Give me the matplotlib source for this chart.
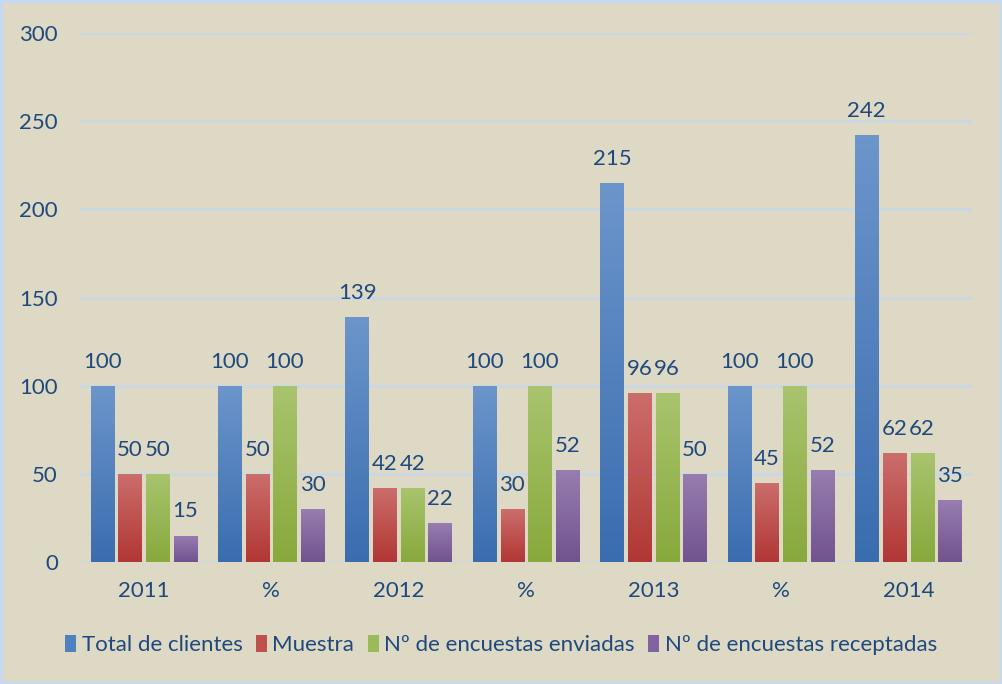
import matplotlib
matplotlib.use("Agg")
import matplotlib.pyplot as plt
import numpy as np
from matplotlib.colors import LinearSegmentedColormap
from matplotlib.patches import Rectangle

categories = ["2011", "%", "2012", "%", "2013", "%", "2014"]
series_names = ["Total de clientes", "Muestra", "Nº de encuestas enviadas", "Nº de encuestas receptadas"]
total_clientes = [100, 100, 139, 100, 215, 100, 242]
muestra = [50, 50, 42, 30, 96, 45, 62]
enviadas = [50, 100, 42, 100, 96, 100, 62]
receptadas = [15, 30, 22, 52, 50, 52, 35]
yticks = [0, 50, 100, 150, 200, 250, 300]

series = [total_clientes, muestra, enviadas, receptadas]
grad = [("#6C95CB", "#3A6DAF"), ("#CB6E6C", "#B13734"), ("#A9C46E", "#88A93C"), ("#977DB0", "#71538E")]
solid = ["#4F81BD", "#C0504D", "#9BBB59", "#8064A2"]

bg = "#DDD9C4"
txt = "#1F497D"
gridc = "#C9D8E5"

plt.rcParams['font.family'] = ['Lato', 'DejaVu Sans']

fig = plt.figure(figsize=(10.02, 6.84), dpi=100, facecolor=bg)
ax = fig.add_axes([80/1002, (684-562)/684, 892/1002, 529/684])
ax.set_facecolor(bg)

x = np.arange(len(categories))
bw = 0.182
step = 0.217
offsets = (np.arange(4) - 1.5) * step
fs = 16

for i, (vals, (ctop, cbot)) in enumerate(zip(series, grad)):
    cmap = LinearSegmentedColormap.from_list(f"g{i}", [cbot, ctop])
    bars = ax.bar(x + offsets[i], vals, bw, color=solid[i], label=series_names[i], zorder=3)
    for b, v in zip(bars, vals):
        bx, by = b.get_x(), b.get_y()
        w, h = b.get_width(), b.get_height()
        img = ax.imshow(np.linspace(0, 1, 100).reshape(-1, 1), cmap=cmap, aspect='auto',
                        extent=[bx, bx + w, by, by + h], origin='lower', zorder=3.5)
        img.set_clip_path(b)
        ax.text(bx + w / 2, v + 8, str(v), ha='center', va='bottom', fontsize=fs, color=txt, zorder=5)

ax.set_xlim(-0.5, len(categories) - 0.5)
ax.set_ylim(0, 300)
ax.set_yticks(yticks)
ax.set_xticks(x)
ax.set_xticklabels(categories)
ax.tick_params(axis='both', length=0, labelsize=fs, labelcolor=txt)
ax.tick_params(axis='y', pad=16)
ax.tick_params(axis='x', pad=14)
for t in ax.get_yticklabels():
    t.set_horizontalalignment('right')
ax.yaxis.grid(True, color=gridc, linewidth=2, zorder=0)
ax.set_axisbelow(True)
for s in ax.spines.values():
    s.set_visible(False)

h, l = ax.get_legend_handles_labels()
leg = fig.legend(h, l, loc='center', bbox_to_anchor=(0.5, (684-645)/684), ncol=4, frameon=False,
                 fontsize=fs, handlelength=0.5, handleheight=0.85, handletextpad=0.25, columnspacing=0.6)
for t in leg.get_texts():
    t.set_color(txt)

fig.patches.append(Rectangle((0.001, 0.001), 0.998, 0.998, transform=fig.transFigure,
                             fill=False, edgecolor="#C6D9F1", linewidth=2.5, zorder=10))

fig.savefig("out.png", dpi=100, facecolor=bg)
